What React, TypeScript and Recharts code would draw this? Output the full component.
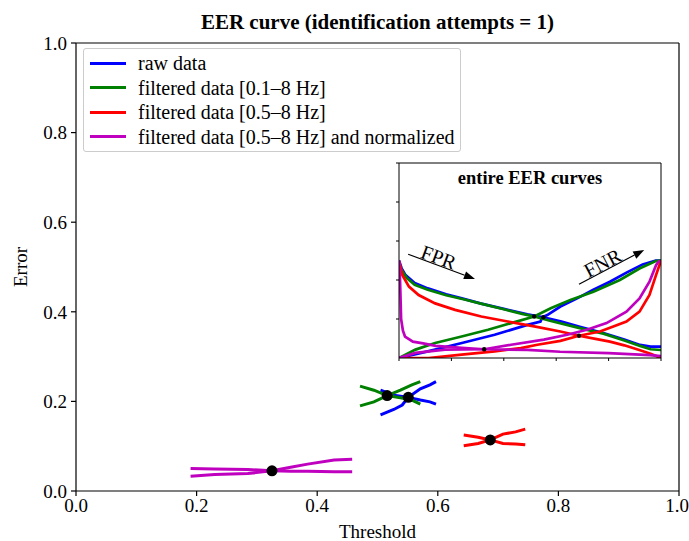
import React from "react";
import {
  ComposedChart,
  Line,
  Scatter,
  XAxis,
  YAxis,
  Legend,
  ReferenceLine,
} from "recharts";

const FONT = "'Liberation Serif', 'Times New Roman', serif";

const seriesNames = [
  "raw data",
  "filtered data [0.1–8 Hz]",
  "filtered data [0.5–8 Hz]",
  "filtered data [0.5–8 Hz] and normalized",
];
const seriesColors = ["#0000ff", "#008000", "#ff0000", "#bf00bf"];

const axisTicks = [0, 0.2, 0.4, 0.6, 0.8, 1.0];

// equal error rate points
const eerThreshold = [0.551, 0.516, 0.687, 0.325];
const eerError = [0.209, 0.213, 0.114, 0.045];

// curves around the EER (main plot)
const rawZoomT = [0.505, 0.527, 0.541, 0.551, 0.571, 0.587, 0.597];
const rawZoomFpr = [0.225, 0.214, 0.211, 0.209, 0.203, 0.199, 0.194];
const rawZoomFnr = [0.17, 0.182, 0.192, 0.209, 0.228, 0.237, 0.244];

const f01ZoomT = [0.471, 0.494, 0.516, 0.538, 0.557, 0.571];
const f01ZoomFpr = [0.234, 0.225, 0.213, 0.208, 0.203, 0.194];
const f01ZoomFnr = [0.19, 0.199, 0.213, 0.225, 0.237, 0.244];

const f05ZoomT = [0.643, 0.667, 0.687, 0.708, 0.729, 0.745];
const f05ZoomFpr = [0.125, 0.12, 0.114, 0.106, 0.105, 0.103];
const f05ZoomFnr = [0.101, 0.106, 0.114, 0.127, 0.132, 0.138];

const normZoomT = [0.19, 0.23, 0.285, 0.325, 0.356, 0.384, 0.428, 0.458];
const normZoomFpr = [0.05, 0.049, 0.048, 0.045, 0.044, 0.044, 0.043, 0.043];
const normZoomFnr = [0.033, 0.037, 0.039, 0.045, 0.053, 0.06, 0.069, 0.071];

// entire curves (inset)
const rawFprT = [0, 0.01, 0.025, 0.06, 0.11, 0.18, 0.24, 0.31, 0.4, 0.49, 0.551, 0.62, 0.69, 0.78, 0.86, 0.92, 0.96, 1.0];
const rawFpr = [0.5, 0.46, 0.425, 0.385, 0.357, 0.327, 0.306, 0.28, 0.252, 0.224, 0.209, 0.187, 0.16, 0.128, 0.095, 0.067, 0.058, 0.058];
const rawFnrT = [0, 0.11, 0.24, 0.365, 0.49, 0.54, 0.547, 0.566, 0.616, 0.68, 0.74, 0.805, 0.87, 0.93, 0.98, 1.0];
const rawFnr = [0, 0.034, 0.077, 0.119, 0.17, 0.187, 0.209, 0.22, 0.264, 0.306, 0.349, 0.391, 0.439, 0.48, 0.5, 0.5];

const f01FprT = [0, 0.01, 0.03, 0.06, 0.11, 0.18, 0.25, 0.32, 0.4, 0.47, 0.516, 0.58, 0.69, 0.78, 0.86, 0.92, 0.96, 1.0];
const f01Fpr = [0.49, 0.45, 0.41, 0.375, 0.35, 0.322, 0.3, 0.276, 0.25, 0.226, 0.213, 0.19, 0.153, 0.125, 0.09, 0.062, 0.045, 0.041];
const f01FnrT = [0, 0.063, 0.138, 0.239, 0.34, 0.428, 0.516, 0.579, 0.654, 0.742, 0.843, 0.918, 0.98, 1.0];
const f01Fnr = [0, 0.043, 0.077, 0.11, 0.145, 0.179, 0.213, 0.255, 0.298, 0.34, 0.4, 0.459, 0.497, 0.5];

const f05FprT = [0, 0.013, 0.038, 0.075, 0.138, 0.214, 0.314, 0.415, 0.516, 0.616, 0.687, 0.75, 0.805, 0.86, 0.92, 0.96, 1.0];
const f05Fpr = [0.497, 0.425, 0.366, 0.323, 0.28, 0.247, 0.213, 0.187, 0.162, 0.136, 0.114, 0.098, 0.084, 0.065, 0.04, 0.022, 0];
const f05FnrT = [0, 0.113, 0.239, 0.365, 0.465, 0.528, 0.616, 0.687, 0.767, 0.818, 0.868, 0.918, 0.956, 0.981, 1.0];
const f05Fnr = [0, 0, 0.017, 0.034, 0.051, 0.068, 0.088, 0.114, 0.136, 0.162, 0.187, 0.238, 0.323, 0.425, 0.5];

const normFprT = [0, 0.004, 0.008, 0.015, 0.023, 0.053, 0.092, 0.14, 0.24, 0.325, 0.49, 0.615, 0.8, 0.958, 1.0];
const normFpr = [0.5, 0.4, 0.2, 0.14, 0.11, 0.084, 0.075, 0.062, 0.052, 0.045, 0.042, 0.032, 0.025, 0.015, 0.01];
const normFnrT = [0, 0.063, 0.176, 0.325, 0.428, 0.553, 0.642, 0.717, 0.792, 0.868, 0.918, 0.956, 0.981, 0.994];
const normFnr = [0, 0.026, 0.043, 0.045, 0.068, 0.094, 0.119, 0.145, 0.179, 0.238, 0.306, 0.391, 0.476, 0.5];

const pts = (xs: number[], ys: number[]) => xs.map((x, i) => ({ x, y: ys[i] }));

const zoomCurves = [
  pts(rawZoomT, rawZoomFpr), pts(rawZoomT, rawZoomFnr),
  pts(f01ZoomT, f01ZoomFpr), pts(f01ZoomT, f01ZoomFnr),
  pts(f05ZoomT, f05ZoomFpr), pts(f05ZoomT, f05ZoomFnr),
  pts(normZoomT, normZoomFpr), pts(normZoomT, normZoomFnr),
];

const fullCurves = [
  pts(rawFprT, rawFpr), pts(rawFnrT, rawFnr),
  pts(f01FprT, f01Fpr), pts(f01FnrT, f01Fnr),
  pts(f05FprT, f05Fpr), pts(f05FnrT, f05Fnr),
  pts(normFprT, normFpr), pts(normFnrT, normFnr),
];

const eerPoints = pts(eerThreshold, eerError);

const fmt = (v: number) => v.toFixed(1);
const noLabel = () => <g />;

const LegendBox = () => (
  <div
    style={{
      border: "1px solid #cccccc",
      borderRadius: 3,
      background: "rgba(255,255,255,0.8)",
      padding: "2px 5px 2px 6px",
      fontFamily: FONT,
      fontSize: 20,
      lineHeight: "24.5px",
      color: "#000",
      whiteSpace: "nowrap",
    }}
  >
    {seriesNames.map((n, i) => (
      <div key={n} style={{ display: "flex", alignItems: "center" }}>
        <span
          style={{
            display: "inline-block",
            width: 36,
            borderTop: `3px solid ${seriesColors[i]}`,
            marginRight: 12,
          }}
        />
        <span>{n}</span>
      </div>
    ))}
  </div>
);

const arrow = (label: string) => (p: any) => {
  const { x1, y1, x2, y2 } = p;
  const a = Math.atan2(y2 - y1, x2 - x1);
  const c = Math.cos(a);
  const s = Math.sin(a);
  const hl = 11;
  const hw = 4;
  const bx = x2 - hl * c;
  const by = y2 - hl * s;
  // text sits on the arrow, a bit before the middle
  const tx = (x1 + x2) / 2 - 6 * c + 1 * s;
  const ty = (y1 + y2) / 2 - 6 * s - 1 * c;
  return (
    <g>
      <line x1={x1} y1={y1} x2={bx} y2={by} stroke="#000" strokeWidth={1.2} />
      <polygon
        points={`${x2},${y2} ${bx - hw * s},${by + hw * c} ${bx + hw * s},${by - hw * c}`}
        fill="#000"
      />
      <text
        x={tx}
        y={ty}
        textAnchor="middle"
        fontSize={20}
        fill="#000"
        transform={`rotate(${(a * 180) / Math.PI} ${tx} ${ty})`}
      >
        {label}
      </text>
    </g>
  );
};

const Inset = () => (
  <div style={{ position: "absolute", left: 393, top: 162 }}>
    <ComposedChart width={269} height={202} margin={{ top: 0, right: 0, bottom: 0, left: 0 }}>
      <XAxis
        type="number"
        dataKey="x"
        domain={[0, 1]}
        ticks={axisTicks}
        tick={noLabel}
        tickSize={3}
        height={6}
        stroke="#000"
        allowDataOverflow
      />
      <XAxis
        xAxisId="top"
        orientation="top"
        type="number"
        domain={[0, 1]}
        height={1}
        tick={false}
        tickLine={false}
        stroke="#000"
        label={{
          value: "entire EER curves",
          position: "bottom",
          offset: 8,
          fill: "#000",
          fontSize: 18.5,
          fontWeight: "bold",
        }}
      />
      <YAxis
        type="number"
        domain={[0, 1]}
        ticks={axisTicks}
        tick={noLabel}
        tickSize={3}
        width={6}
        stroke="#000"
        allowDataOverflow
      />
      <YAxis yAxisId="right" orientation="right" width={1} domain={[0, 1]} tick={false} tickLine={false} stroke="#000" />
      {fullCurves.map((d, i) => (
        <Line
          key={i}
          data={d}
          dataKey="y"
          type="linear"
          stroke={seriesColors[Math.floor(i / 2)]}
          strokeWidth={2.7}
          dot={false}
          legendType="none"
          isAnimationActive={false}
        />
      ))}
      <Scatter
        data={eerPoints}
        dataKey="y"
        isAnimationActive={false}
        shape={(p: any) => <circle cx={p.cx} cy={p.cy} r={2.2} fill="#000" />}
      />
      <ReferenceLine segment={[{ x: 0.035, y: 0.532 }, { x: 0.29, y: 0.405 }]} shape={arrow("FPR")} />
      <ReferenceLine segment={[{ x: 0.687, y: 0.378 }, { x: 0.936, y: 0.554 }]} shape={arrow("FNR")} />
    </ComposedChart>
  </div>
);

export default function App() {
  return (
    <div style={{ position: "absolute", left: 0, top: 0, width: 689, height: 541, fontFamily: FONT, background: "#fff" }}>
      <ComposedChart width={689} height={541} margin={{ top: 42, right: 9, bottom: 0, left: 0 }}>
        <XAxis
          type="number"
          dataKey="x"
          domain={[0, 1]}
          ticks={axisTicks}
          tickFormatter={fmt}
          height={50}
          tickSize={5}
          tickMargin={3}
          stroke="#000"
          strokeWidth={1.2}
          tick={{ fill: "#000", fontSize: 19 }}
          label={{ value: "Threshold", position: "insideBottom", offset: 3, fill: "#000", fontSize: 19 }}
          allowDataOverflow
        />
        <XAxis
          xAxisId="top"
          orientation="top"
          type="number"
          domain={[0, 1]}
          height={1}
          tick={false}
          tickLine={false}
          stroke="#000"
          strokeWidth={1.2}
          label={{
            value: "EER curve (identification attempts = 1)",
            position: "top",
            offset: 13,
            fill: "#000",
            fontSize: 21,
            fontWeight: "bold",
          }}
        />
        <YAxis
          type="number"
          domain={[0, 1]}
          ticks={axisTicks}
          tickFormatter={fmt}
          width={76}
          tickSize={5}
          tickMargin={4}
          stroke="#000"
          strokeWidth={1.2}
          tick={{ fill: "#000", fontSize: 19 }}
          label={{
            value: "Error",
            angle: -90,
            position: "insideLeft",
            offset: 20,
            fill: "#000",
            fontSize: 19,
            style: { textAnchor: "middle" },
          }}
          allowDataOverflow
        />
        <YAxis
          yAxisId="right"
          orientation="right"
          width={1}
          domain={[0, 1]}
          tick={false}
          tickLine={false}
          stroke="#000"
          strokeWidth={1.2}
        />
        <Legend
          layout="vertical"
          align="center"
          verticalAlign="middle"
          content={() => <LegendBox />}
          wrapperStyle={{ left: 83, top: 48, width: "auto", height: "auto" }}
        />
        {zoomCurves.map((d, i) => (
          <Line
            key={i}
            data={d}
            dataKey="y"
            type="linear"
            stroke={seriesColors[Math.floor(i / 2)]}
            strokeWidth={3}
            dot={false}
            legendType="none"
            isAnimationActive={false}
          />
        ))}
        <Scatter
          data={eerPoints}
          dataKey="y"
          isAnimationActive={false}
          legendType="none"
          shape={(p: any) => <circle cx={p.cx} cy={p.cy} r={5.5} fill="#000" />}
        />
      </ComposedChart>
      <Inset />
    </div>
  );
}
